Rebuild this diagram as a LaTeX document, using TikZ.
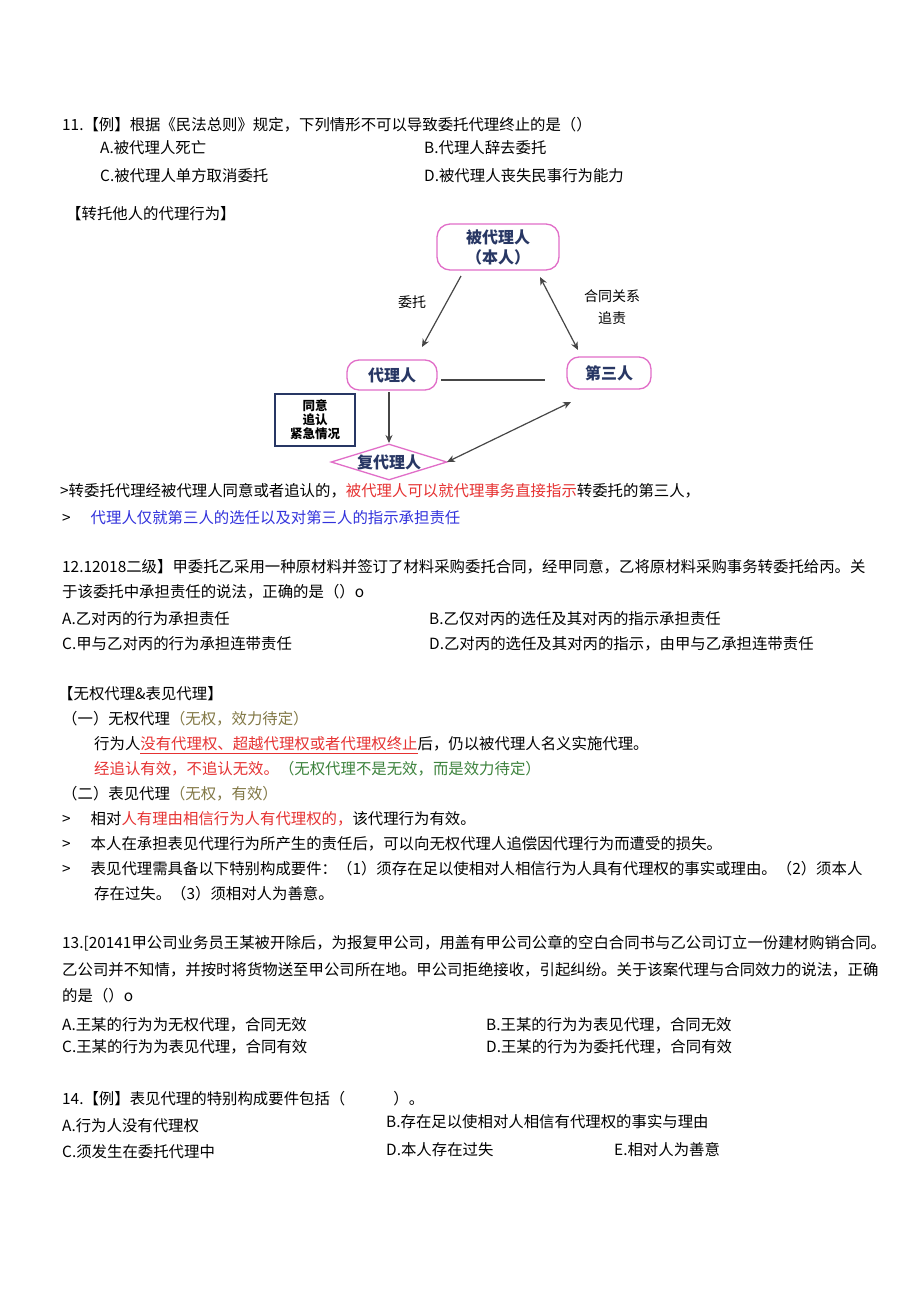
\documentclass[tikz,border=0pt]{standalone}
\usepackage{fontspec}
\setmainfont{Noto Sans CJK SC}
\usetikzlibrary{shapes.geometric,arrows.meta}
\definecolor{tred}{RGB}{230,50,50}
\definecolor{tblue}{RGB}{50,50,220}
\definecolor{tgreen}{RGB}{60,130,60}
\definecolor{tolive}{RGB}{130,120,70}
\definecolor{pinkb}{RGB}{225,110,200}
\definecolor{navy}{RGB}{40,55,100}
\definecolor{arr}{RGB}{70,70,70}
\begin{document}
\begin{tikzpicture}[x=1pt,y=-1pt,
  t/.style={anchor=west,inner sep=0,font=\fontsize{15.4}{16}\selectfont},
  pbox/.style={draw=pinkb,line width=1.3pt,rounded corners=13pt,font=\bfseries\fontsize{16}{20}\selectfont,text=navy,align=center},
  ar/.style={draw=arr,line width=1.2pt,-{Stealth[length=8pt,width=7pt]}},
  dar/.style={draw=arr,line width=1.2pt,{Stealth[length=8pt,width=7pt]}-{Stealth[length=8pt,width=7pt]}}]
\useasboundingbox (0,0) rectangle (920,1301);
\fill[white] (0,0) rectangle (920,1301);
\node[t] (l1) at (62,125) {11.【例】根据《民法总则》规定，下列情形不可以导致委托代理终止的是（）};
\node[t] (l2a) at (100,148) {A.被代理人死亡};
\node[t] (l2b) at (424,148) {B.代理人辞去委托};
\node[t] (l3a) at (100,176) {C.被代理人单方取消委托};
\node[t] (l3b) at (424,176) {D.被代理人丧失民事行为能力};
\node[t] (l4) at (66,214) {【转托他人的代理行为】};
% diagram
\node[pbox,minimum width=122,minimum height=46,inner sep=1pt] (p) at (498,247) {被代理人\\（本人）};
\node[pbox,minimum width=90,minimum height=30,rounded corners=12pt] (a) at (392,375) {代理人};
\node[pbox,minimum width=84,minimum height=32,rounded corners=12pt] (c) at (609,373) {第三人};
\node[draw=navy,line width=1.6pt,minimum width=80,minimum height=52,inner sep=1pt,align=center,font=\bfseries\fontsize{12.5}{14}\selectfont] (b) at (315,420) {同意\\追认\\紧急情况};
\node[diamond,draw=pinkb,line width=1.3pt,aspect=3.2,inner sep=0,minimum width=116,minimum height=36,font=\bfseries\fontsize{16}{16}\selectfont,text=navy] (s) at (389,462) {复代理人};
\coordinate (e1s) at (461,276); \coordinate (e1e) at (422,347);
\coordinate (e2s) at (540,277); \coordinate (e2e) at (578,350);
\coordinate (e3s) at (441,380); \coordinate (e3e) at (545,380);
\coordinate (e4s) at (389,392); \coordinate (e4e) at (389,443);
\coordinate (e5s) at (447,462); \coordinate (e5e) at (571,402);
\draw[ar] (e1s) -- (e1e);
\draw[dar] (e2s) -- (e2e);
\draw[draw=arr,line width=1.2pt] (e3s) -- (e3e);
\draw[ar] (e4s) -- (e4e);
\draw[dar] (e5s) -- (e5e);
\node[inner sep=0,font=\fontsize{14}{16}\selectfont] (lb1) at (412,302) {委托};
\node[inner sep=0,font=\fontsize{14}{16}\selectfont] (lb2) at (612,296) {合同关系};
\node[inner sep=0,font=\fontsize{14}{16}\selectfont] (lb3) at (612,318) {追责};
% text
\node[t] (l5) at (60,491) {>转委托代理经被代理人同意或者追认的，\textcolor{tred}{被代理人可以就代理事务直接指示}转委托的第三人，};
\node[t] (l6) at (62,518) {>\hspace{20pt}\textcolor{tblue}{代理人仅就第三人的选任以及对第三人的指示承担责任}};
\node[t] (l7) at (62,567) {12.12018二级】甲委托乙采用一种原材料并签订了材料采购委托合同，经甲同意，乙将原材料采购事务转委托给丙。关};
\node[t] (l8) at (62,592) {于该委托中承担责任的说法，正确的是（）o};
\node[t] (l9a) at (62,619) {A.乙对丙的行为承担责任};
\node[t] (l9b) at (429,619) {B.乙仅对丙的选任及其对丙的指示承担责任};
\node[t] (l10a) at (62,644) {C.甲与乙对丙的行为承担连带责任};
\node[t] (l10b) at (429,644) {D.乙对丙的选任及其对丙的指示，由甲与乙承担连带责任};
\node[t] (l11) at (58,694) {【无权代理\&表见代理】};
\node[t] (l12) at (62,719) {（一）无权代理\textcolor{tolive}{（无权，效力待定）}};
\node[t] (l13) at (94,744) {行为人\textcolor{tred}{没有代理权、超越代理权或者代理权终止}后，仍以被代理人名义实施代理。};
\draw[tred,line width=0.6pt] (140,753) -- (418,753);
\node[t] (l14) at (94,769) {\textcolor{tred}{经追认有效，不追认无效。}\textcolor{tgreen}{（无权代理不是无效，而是效力待定）}};
\node[t] (l15) at (62,794) {（二）表见代理\textcolor{tolive}{（无权，有效）}};
\node[t] (l16) at (62,819) {>\hspace{20pt}相对\textcolor{tred}{人有理由相信行为人有代理权的，}该代理行为有效。};
\node[t] (l17) at (62,844) {>\hspace{20pt}本人在承担表见代理行为所产生的责任后，可以向无权代理人追偿因代理行为而遭受的损失。};
\node[t] (l18) at (62,869) {>\hspace{20pt}表见代理需具备以下特别构成要件：（1）须存在足以使相对人相信行为人具有代理权的事实或理由。（2）须本人};
\node[t] (l19) at (94,894) {存在过失。（3）须相对人为善意。};
\node[t] (l20) at (62,943) {13.[20141甲公司业务员王某被开除后，为报复甲公司，用盖有甲公司公章的空白合同书与乙公司订立一份建材购销合同。};
\node[t] (l21) at (62,970) {乙公司并不知情，并按时将货物送至甲公司所在地。甲公司拒绝接收，引起纠纷。关于该案代理与合同效力的说法，正确};
\node[t] (l22) at (62,996) {的是（）o};
\node[t] (l23a) at (62,1025) {A.王某的行为为无权代理，合同无效};
\node[t] (l23b) at (486,1025) {B.王某的行为为表见代理，合同无效};
\node[t] (l24a) at (62,1047) {C.王某的行为为表见代理，合同有效};
\node[t] (l24b) at (486,1047) {D.王某的行为为委托代理，合同有效};
\node[t] (l25) at (62,1099) {14.【例】表见代理的特别构成要件包括（\hspace{48pt}）。};
\node[t] (l26a) at (62,1126) {A.行为人没有代理权};
\node[t] (l26b) at (386,1122) {B.存在足以使相对人相信有代理权的事实与理由};
\node[t] (l27a) at (62,1152) {C.须发生在委托代理中};
\node[t] (l27b) at (386,1150) {D.本人存在过失};
\node[t] (l27c) at (614,1150) {E.相对人为善意};
\end{tikzpicture}
\end{document}
